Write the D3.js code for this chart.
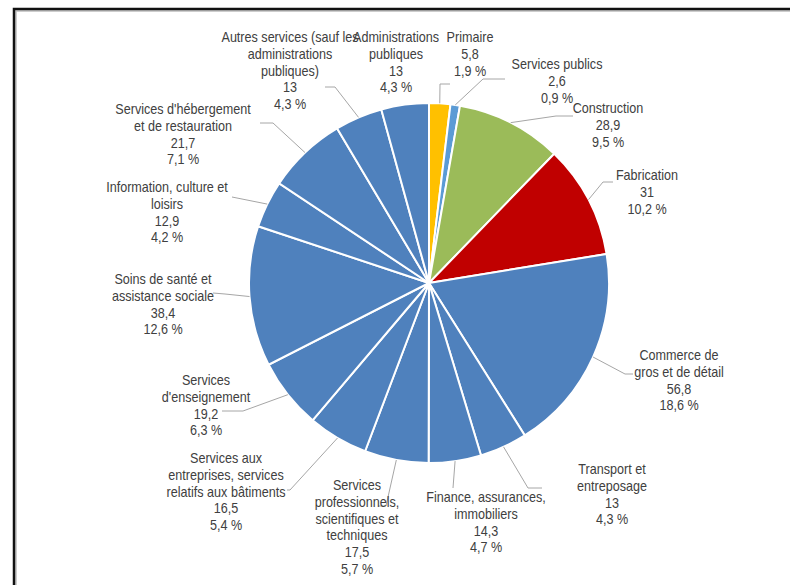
<!DOCTYPE html>
<html>
<head>
<meta charset="utf-8">
<script src="https://cdn.jsdelivr.net/npm/d3@7"></script>
<style>
  body { margin: 0; background: #fff; }
  svg text { font-family: "Liberation Sans", Arial, sans-serif; font-size: 14px; fill: #404040; }
</style>
</head>
<body>
<svg id="chart" width="790" height="585"></svg>
<script>
// secteurs, dans l'ordre des aiguilles d'une montre depuis midi
var categories = [
  ["Primaire"],
  ["Services publics"],
  ["Construction"],
  ["Fabrication"],
  ["Commerce de", "gros et de détail"],
  ["Transport et", "entreposage"],
  ["Finance, assurances,", "immobiliers"],
  ["Services", "professionnels,", "scientifiques et", "techniques"],
  ["Services aux", "entreprises, services", "relatifs aux bâtiments"],
  ["Services", "d'enseignement"],
  ["Soins de santé et", "assistance sociale"],
  ["Information, culture et", "loisirs"],
  ["Services d'hébergement", "et de restauration"],
  ["Autres services (sauf les", "administrations", "publiques)"],
  ["Administrations", "publiques"]
];
var values = [5.8, 2.6, 28.9, 31, 56.8, 13, 14.3, 17.5, 16.5, 19.2, 38.4, 12.9, 21.7, 13, 13];
var sliceColors = ["#FFC000", "#5B9BD5", "#9BBB59", "#C00000", "#4F81BD", "#4F81BD", "#4F81BD",
  "#4F81BD", "#4F81BD", "#4F81BD", "#4F81BD", "#4F81BD", "#4F81BD", "#4F81BD", "#4F81BD"];

// where Excel put each label (centre x, first line y) and its leader line
var labelLayout = [
  {x: 470, y: 37, elbow: [440, 84], end: [450, 84]},
  {x: 557, y: 64, elbow: [483, 79], end: [505, 79]},
  {x: 608, y: 108, elbow: [556, 116], end: [573, 116]},
  {x: 647, y: 175, elbow: [603, 182], end: [613, 182]},
  {x: 679, y: 355, elbow: [625, 374], end: [633, 374]},
  {x: 612, y: 469, elbow: [528, 488], end: [542, 488]},
  {x: 486, y: 497, elbow: [453, 488], end: [453, 488]},
  {x: 357, y: 485, elbow: [386, 506], end: [378, 506]},
  {x: 226, y: 458, elbow: [290, 490], end: [287, 490]},
  {x: 206, y: 380, elbow: [243, 411], end: [222, 411]},
  {x: 163, y: 279, elbow: [225, 294], end: [213, 293]},
  {x: 167, y: 187, elbow: [232, 197], end: [232, 197]},
  {x: 183, y: 109, elbow: [273, 123], end: [260, 123]},
  {x: 290, y: 37, elbow: [335, 87], end: [325, 87]},
  {x: 396, y: 37, elbow: null, end: null}
];

var svg = d3.select("#chart");
var cx = 429, cy = 283, radius = 180, lineH = 16.8, squeeze = 0.9;
var total = d3.sum(values);
var comma = s => s.replace(".", ",");
var fmtVal = v => comma(String(v));
var fmtPct = v => comma(d3.format(".1f")(v / total * 100)) + " %";

// cadre
svg.append("rect").attr("x", 16).attr("y", 11).attr("width", 800).attr("height", 600)
  .attr("fill", "none").attr("stroke", "#bdbdbd").attr("stroke-width", 1.5);
svg.append("rect").attr("x", 14).attr("y", 9).attr("width", 800).attr("height", 600)
  .attr("fill", "none").attr("stroke", "#111").attr("stroke-width", 2.5);

var pie = d3.pie().sort(null).value(d => d);
var arc = d3.arc().innerRadius(0).outerRadius(radius);
var arcs = pie(values);

var g = svg.append("g").attr("transform", `translate(${cx},${cy})`);
g.selectAll("path.slice")
  .data(arcs)
  .join("path")
  .attr("class", "slice")
  .attr("d", arc)
  .attr("fill", (d, i) => sliceColors[i])
  .attr("stroke", "#fff")
  .attr("stroke-width", 2);

// lignes de rappel
var edge = d3.arc().innerRadius(radius).outerRadius(radius);
arcs.forEach((d, i) => {
  var L = labelLayout[i];
  if (!L.elbow) return;
  var p = edge.centroid(d);
  var pts = [[cx + p[0], cy + p[1]], L.elbow, L.end];
  svg.append("path")
    .attr("d", d3.line()(pts))
    .attr("fill", "none")
    .attr("stroke", "#a6a6a6")
    .attr("stroke-width", 1);
});

// étiquettes (Arial Narrow look: squeezed horizontally)
arcs.forEach((d, i) => {
  var L = labelLayout[i];
  var lines = categories[i].concat([fmtVal(values[i]), fmtPct(values[i])]);
  var t = svg.append("g")
    .attr("transform", `translate(${L.x},0) scale(${squeeze},1)`)
    .append("text").attr("text-anchor", "middle");
  lines.forEach((s, k) => {
    t.append("tspan").attr("x", 0).attr("y", L.y + k * lineH + 5).text(s);
  });
});
</script>
</body>
</html>
